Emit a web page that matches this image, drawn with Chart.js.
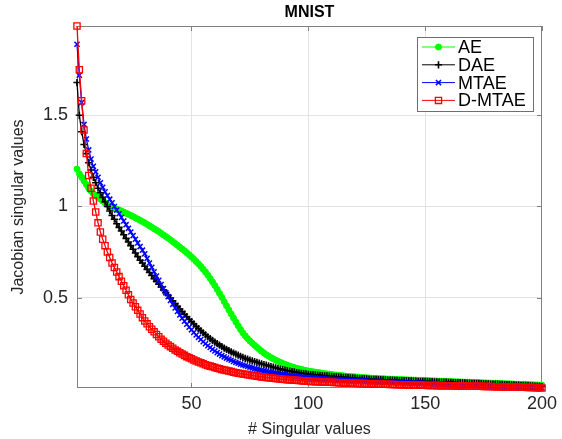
<!DOCTYPE html>
<html>
<head>
<meta charset="utf-8">
<title>MNIST</title>
<script src="https://cdn.jsdelivr.net/npm/chart.js@4.4.1/dist/chart.umd.min.js"></script>
<style>
  body { margin: 0; background: #fff; }
  canvas { display: block; }
</style>
</head>
<body>
<canvas id="jacobianChart" width="562" height="439"></canvas>
<script>
// Singulárne hodnoty Jakobiánu (200 hodnôt na model, odčítané z obrázka)
const seriesNames = ['AE', 'DAE', 'MTAE', 'D-MTAE'];
const xTicks = [50, 100, 150, 200];
const yTicks = [0.5, 1, 1.5];

const ae = [
    1.205, 1.18, 1.16, 1.14, 1.12, 1.10, 1.085, 1.07, 1.06, 1.05,
    1.04, 1.03, 1.02, 1.01, 1.0, 0.995, 0.99, 0.985, 0.98, 0.975,
    0.969, 0.963, 0.957, 0.951, 0.945, 0.938, 0.931, 0.924, 0.917, 0.91,
    0.902, 0.894, 0.886, 0.878, 0.87, 0.862, 0.853, 0.844, 0.835, 0.826,
    0.817, 0.807, 0.797, 0.787, 0.777, 0.767, 0.757, 0.746, 0.735, 0.723,
    0.711, 0.698, 0.685, 0.671, 0.656, 0.64, 0.623, 0.605, 0.586, 0.566,
    0.545, 0.523, 0.501, 0.478, 0.455, 0.432, 0.41, 0.388, 0.366, 0.345,
    0.325, 0.306, 0.29, 0.275, 0.262, 0.25, 0.238, 0.227, 0.216, 0.206,
    0.196, 0.187, 0.179, 0.171, 0.164, 0.157, 0.151, 0.145, 0.139, 0.134,
    0.129, 0.124, 0.12, 0.116, 0.112, 0.109, 0.106, 0.103, 0.1, 0.097,
    0.095, 0.093, 0.091, 0.089, 0.087, 0.085, 0.083, 0.081, 0.08, 0.078,
    0.076, 0.075, 0.073, 0.072, 0.071, 0.069, 0.068, 0.067, 0.066, 0.065,
    0.064, 0.063, 0.062, 0.061, 0.06, 0.059, 0.058, 0.057, 0.057, 0.056,
    0.055, 0.055, 0.054, 0.053, 0.053, 0.052, 0.051, 0.051, 0.05, 0.05,
    0.049, 0.049, 0.048, 0.048, 0.047, 0.047, 0.046, 0.046, 0.045, 0.045,
    0.044, 0.044, 0.043, 0.043, 0.042, 0.042, 0.041, 0.041, 0.04, 0.04,
    0.039, 0.039, 0.038, 0.038, 0.037, 0.037, 0.036, 0.036, 0.035, 0.035,
    0.034, 0.034, 0.033, 0.033, 0.032, 0.032, 0.031, 0.031, 0.03, 0.03,
    0.029, 0.029, 0.028, 0.028, 0.027, 0.027, 0.026, 0.026, 0.025, 0.025,
    0.024, 0.024, 0.023, 0.023, 0.022, 0.022, 0.021, 0.021, 0.02, 0.02
];

const dae = [
    1.68, 1.50, 1.41, 1.34, 1.29, 1.24, 1.20, 1.16, 1.13, 1.10,
    1.075, 1.05, 1.025, 1.0, 0.975, 0.95, 0.93, 0.905, 0.885, 0.865,
    0.845, 0.825, 0.805, 0.785, 0.765, 0.745, 0.725, 0.705, 0.69, 0.672,
    0.655, 0.638, 0.621, 0.604, 0.589, 0.574, 0.558, 0.542, 0.527, 0.512,
    0.497, 0.482, 0.467, 0.452, 0.437, 0.423, 0.409, 0.395, 0.381, 0.368,
    0.355, 0.342, 0.33, 0.318, 0.307, 0.296, 0.285, 0.275, 0.265, 0.256,
    0.247, 0.239, 0.231, 0.223, 0.216, 0.209, 0.202, 0.196, 0.19, 0.184,
    0.177, 0.172, 0.167, 0.162, 0.157, 0.153, 0.149, 0.145, 0.141, 0.137,
    0.133, 0.13, 0.126, 0.122, 0.118, 0.115, 0.111, 0.108, 0.105, 0.102,
    0.099, 0.097, 0.094, 0.092, 0.089, 0.087, 0.085, 0.083, 0.081, 0.079,
    0.078, 0.077, 0.076, 0.075, 0.074, 0.072, 0.071, 0.07, 0.069, 0.068,
    0.067, 0.066, 0.065, 0.064, 0.063, 0.062, 0.061, 0.06, 0.059, 0.058,
    0.057, 0.056, 0.056, 0.055, 0.054, 0.053, 0.052, 0.052, 0.051, 0.05,
    0.05, 0.049, 0.049, 0.048, 0.047, 0.047, 0.046, 0.046, 0.045, 0.045,
    0.044, 0.044, 0.043, 0.043, 0.042, 0.042, 0.041, 0.041, 0.04, 0.04,
    0.04, 0.039, 0.039, 0.038, 0.038, 0.037, 0.037, 0.036, 0.036, 0.035,
    0.035, 0.034, 0.034, 0.033, 0.033, 0.032, 0.032, 0.031, 0.031, 0.03,
    0.03, 0.029, 0.029, 0.028, 0.028, 0.027, 0.027, 0.026, 0.026, 0.025,
    0.025, 0.024, 0.024, 0.023, 0.022, 0.022, 0.021, 0.021, 0.02, 0.02,
    0.019, 0.018, 0.018, 0.017, 0.016, 0.016, 0.015, 0.014, 0.013, 0.012
];

const mtae = [
    1.89, 1.72, 1.57, 1.45, 1.37, 1.31, 1.26, 1.22, 1.19, 1.16,
    1.13, 1.105, 1.08, 1.06, 1.04, 1.02, 1.0, 0.98, 0.96, 0.94,
    0.92, 0.90, 0.88, 0.86, 0.84, 0.82, 0.80, 0.78, 0.76, 0.74,
    0.715, 0.69, 0.666, 0.642, 0.618, 0.595, 0.572, 0.549, 0.527, 0.505,
    0.484, 0.463, 0.443, 0.424, 0.405, 0.387, 0.37, 0.354, 0.338, 0.323,
    0.309, 0.295, 0.282, 0.27, 0.258, 0.247, 0.236, 0.226, 0.216, 0.207,
    0.198, 0.19, 0.182, 0.175, 0.168, 0.162, 0.156, 0.15, 0.145, 0.14,
    0.135, 0.13, 0.126, 0.122, 0.118, 0.114, 0.11, 0.107, 0.104, 0.101,
    0.098, 0.095, 0.092, 0.09, 0.087, 0.085, 0.083, 0.081, 0.079, 0.077,
    0.075, 0.073, 0.071, 0.07, 0.068, 0.066, 0.065, 0.064, 0.062, 0.061,
    0.06, 0.059, 0.058, 0.057, 0.056, 0.055, 0.054, 0.053, 0.052, 0.052,
    0.051, 0.05, 0.049, 0.049, 0.048, 0.047, 0.047, 0.046, 0.045, 0.045,
    0.044, 0.044, 0.043, 0.042, 0.042, 0.041, 0.041, 0.04, 0.04, 0.039,
    0.039, 0.038, 0.038, 0.037, 0.037, 0.036, 0.036, 0.035, 0.035, 0.034,
    0.034, 0.033, 0.033, 0.032, 0.032, 0.031, 0.031, 0.03, 0.03, 0.029,
    0.029, 0.028, 0.028, 0.027, 0.027, 0.026, 0.026, 0.025, 0.025, 0.024,
    0.024, 0.023, 0.023, 0.022, 0.022, 0.021, 0.021, 0.02, 0.02, 0.019,
    0.019, 0.018, 0.018, 0.017, 0.017, 0.016, 0.016, 0.015, 0.015, 0.014,
    0.014, 0.013, 0.013, 0.012, 0.012, 0.011, 0.011, 0.01, 0.01, 0.009,
    0.009, 0.008, 0.008, 0.007, 0.007, 0.006, 0.006, 0.005, 0.005, 0.004
];

const dmtae = [
    1.99, 1.75, 1.58, 1.42, 1.29, 1.17, 1.10, 1.03, 0.97, 0.91,
    0.86, 0.82, 0.785, 0.75, 0.72, 0.69, 0.665, 0.64, 0.615, 0.59,
    0.565, 0.54, 0.515, 0.49, 0.47, 0.45, 0.43, 0.41, 0.39, 0.372,
    0.356, 0.34, 0.326, 0.312, 0.298, 0.285, 0.272, 0.261, 0.25, 0.24,
    0.231, 0.222, 0.213, 0.205, 0.197, 0.19, 0.183, 0.176, 0.17, 0.164,
    0.158, 0.152, 0.147, 0.142, 0.137, 0.132, 0.128, 0.124, 0.12, 0.116,
    0.112, 0.109, 0.106, 0.103, 0.1, 0.097, 0.094, 0.091, 0.088, 0.085,
    0.083, 0.081, 0.079, 0.077, 0.075, 0.073, 0.071, 0.069, 0.067, 0.065,
    0.063, 0.062, 0.06, 0.059, 0.057, 0.056, 0.055, 0.053, 0.052, 0.051,
    0.05, 0.049, 0.048, 0.047, 0.046, 0.045, 0.044, 0.043, 0.042, 0.041,
    0.04, 0.04, 0.039, 0.039, 0.038, 0.037, 0.037, 0.036, 0.036, 0.035,
    0.034, 0.034, 0.033, 0.033, 0.032, 0.032, 0.031, 0.031, 0.03, 0.03,
    0.029, 0.029, 0.028, 0.028, 0.027, 0.027, 0.026, 0.026, 0.026, 0.025,
    0.025, 0.024, 0.024, 0.024, 0.023, 0.023, 0.023, 0.022, 0.022, 0.022,
    0.021, 0.021, 0.021, 0.02, 0.02, 0.02, 0.02, 0.019, 0.019, 0.019,
    0.018, 0.018, 0.018, 0.018, 0.017, 0.017, 0.017, 0.017, 0.016, 0.016,
    0.016, 0.016, 0.015, 0.015, 0.015, 0.015, 0.014, 0.014, 0.014, 0.014,
    0.013, 0.013, 0.013, 0.013, 0.012, 0.012, 0.012, 0.012, 0.011, 0.011,
    0.011, 0.011, 0.01, 0.01, 0.01, 0.01, 0.009, 0.009, 0.009, 0.009,
    0.008, 0.008, 0.008, 0.007, 0.007, 0.007, 0.006, 0.006, 0.005, 0.004
];

// Poradie singulárnej hodnoty 1..200 (os X)
const indices = ae.map((v, i) => i + 1);

Chart.defaults.font.family = "'Liberation Sans', Arial, Helvetica, sans-serif";
Chart.defaults.color = '#262626';

function toPoints(values) {
    return values.map((v, i) => ({ x: indices[i], y: v }));
}

// Rámik okolo grafu s tickmi dovnútra (ako v MATLABe)
const framePlugin = {
    id: 'frame',
    beforeDatasetsDraw(chart) {
        const { ctx, chartArea: a, scales: { x, y } } = chart;
        ctx.save();
        ctx.strokeStyle = '#808080';
        ctx.lineWidth = 1;
        ctx.strokeRect(a.left + 0.5, a.top + 0.5, a.width - 1, a.height - 1);
        ctx.beginPath();
        xTicks.forEach(v => {
            const px = Math.round(x.getPixelForValue(v)) + 0.5;
            ctx.moveTo(px, a.bottom); ctx.lineTo(px, a.bottom - 5);
            ctx.moveTo(px, a.top); ctx.lineTo(px, a.top + 5);
        });
        yTicks.forEach(v => {
            const py = Math.round(y.getPixelForValue(v)) + 0.5;
            ctx.moveTo(a.left, py); ctx.lineTo(a.left + 5, py);
            ctx.moveTo(a.right, py); ctx.lineTo(a.right - 5, py);
        });
        ctx.stroke();
        ctx.restore();
    }
};

// Legenda vo vnútri grafu (pravý horný roh)
const legendPlugin = {
    id: 'insideLegend',
    afterDraw(chart) {
        const { ctx, chartArea: a } = chart;
        const w = 116, h = 74;
        const left = a.right - 9 - w;
        const top = a.top + 11;
        ctx.save();
        ctx.fillStyle = '#fff';
        ctx.fillRect(left, top, w, h);
        ctx.strokeStyle = '#6e6e6e';
        ctx.lineWidth = 1;
        ctx.strokeRect(left + 0.5, top + 0.5, w, h);
        ctx.font = "18px 'Liberation Sans', Arial, sans-serif";
        ctx.textBaseline = 'middle';
        seriesNames.forEach((name, i) => {
            const ds = chart.data.datasets.find(d => d.label === name);
            const yy = top + 10 + i * 17.8;
            ctx.strokeStyle = ds.borderColor;
            ctx.lineWidth = 1;
            ctx.beginPath();
            ctx.moveTo(left + 5, yy);
            ctx.lineTo(left + 38, yy);
            ctx.stroke();
            ctx.fillStyle = ds.pointBackgroundColor;
            ctx.strokeStyle = ds.pointBorderColor;
            ctx.lineWidth = ds.pointBorderWidth;
            Chart.helpers.drawPoint(ctx, {
                pointStyle: ds.pointStyle,
                radius: ds.pointRadius,
                rotation: 0,
                borderWidth: ds.pointBorderWidth
            }, left + 21.5, yy);
            ctx.fillStyle = '#000';
            ctx.fillText(name, left + 41, yy + 1);
        });
        ctx.restore();
    }
};

const datasets = [
    {
        label: 'AE', data: toPoints(ae), order: 4,
        borderColor: '#00ff00', borderWidth: 1.3,
        pointStyle: 'circle', pointRadius: 3, pointBorderWidth: 1,
        pointBackgroundColor: '#00ff00', pointBorderColor: '#00ff00'
    },
    {
        label: 'DAE', data: toPoints(dae), order: 3,
        borderColor: '#000000', borderWidth: 1.3,
        pointStyle: 'cross', pointRadius: 3.6, pointBorderWidth: 1.6,
        pointBackgroundColor: '#000000', pointBorderColor: '#000000'
    },
    {
        label: 'MTAE', data: toPoints(mtae), order: 2,
        borderColor: '#0000ff', borderWidth: 1.3,
        pointStyle: 'crossRot', pointRadius: 3.6, pointBorderWidth: 1.5,
        pointBackgroundColor: '#0000ff', pointBorderColor: '#0000ff'
    },
    {
        label: 'D-MTAE', data: toPoints(dmtae), order: 1,
        borderColor: '#ff0000', borderWidth: 1.3,
        pointStyle: 'rect', pointRadius: 4.4, pointBorderWidth: 1.3,
        pointBackgroundColor: 'rgba(0,0,0,0)', pointBorderColor: '#ff0000'
    }
];

const ctx = document.getElementById('jacobianChart').getContext('2d');
new Chart(ctx, {
    type: 'line',
    data: { datasets: datasets.map(d => Object.assign({ clip: false, tension: 0, fill: false }, d)) },
    options: {
        responsive: false,
        animation: false,
        layout: { padding: { left: 0, right: 19, top: 0, bottom: 0 } },
        plugins: {
            legend: { display: false },
            tooltip: { enabled: false },
            title: {
                display: true,
                text: 'MNIST',
                fullSize: false,
                color: '#000',
                font: { size: 16, weight: 'bold' },
                padding: { top: 3, bottom: 3.8 }
            }
        },
        scales: {
            x: {
                type: 'linear',
                min: 1,
                max: 200,
                afterBuildTicks: (scale) => { scale.ticks = xTicks.map(v => ({ value: v })); },
                afterFit: (scale) => { scale.height = 51; },
                ticks: { font: { size: 18 }, padding: 5, maxRotation: 0, autoSkip: false, callback: (v) => String(v) },
                grid: { color: '#e3e3e3', drawTicks: false },
                border: { display: false },
                title: {
                    display: true,
                    text: '# Singular values',
                    font: { size: 16 },
                    padding: { top: 0, bottom: 0 }
                }
            },
            y: {
                type: 'linear',
                min: 0.004,
                max: 1.99,
                afterBuildTicks: (scale) => { scale.ticks = yTicks.map(v => ({ value: v })); },
                afterFit: (scale) => { scale.width = 77; },
                ticks: { font: { size: 18 }, padding: 9, autoSkip: false, callback: (v) => String(v) },
                grid: { color: '#e3e3e3', drawTicks: false },
                border: { display: false },
                title: {
                    display: true,
                    text: 'Jacobian singular values',
                    font: { size: 16 },
                    padding: { top: 9, bottom: 0 }
                }
            }
        }
    },
    plugins: [framePlugin, legendPlugin]
});
</script>
</body>
</html>
